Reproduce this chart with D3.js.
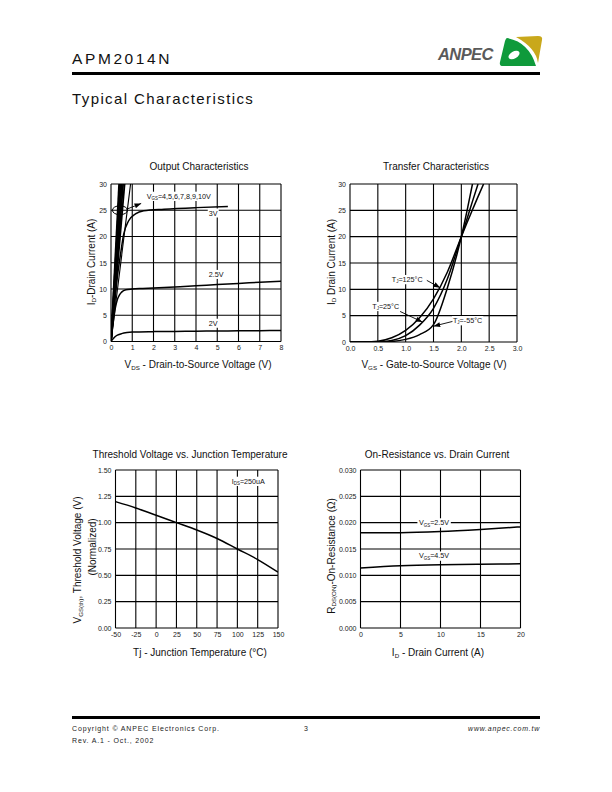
<!DOCTYPE html>
<html><head><meta charset="utf-8">
<script src="https://cdn.jsdelivr.net/npm/d3@7"></script>
<style>
body{margin:0;background:#fff;}
svg{display:block;font-family:"Liberation Sans",Arial,Helvetica,sans-serif;}
</style></head><body>
<svg id="page" width="612" height="792"></svg>
<script>
// ---------------- DATA ----------------
// Output characteristics (VDS in V, ID in A)
const outVds2V  = [0,0.1,0.2,0.3,0.5,0.75,1,2,3,4,5,6,7,8];
const outId2V   = [0,0.5,0.95,1.2,1.5,1.7,1.8,1.88,1.92,1.96,2.0,2.03,2.07,2.1];
const outVds25V = [0,0.1,0.2,0.3,0.4,0.5,0.7,1,1.5,2,3,4,5,6,7,8];
const outId25V  = [0,3.5,6.3,8.0,8.9,9.4,9.85,10.0,10.1,10.2,10.4,10.6,10.85,11.05,11.3,11.5];
const outVds3V  = [0,0.1,0.2,0.3,0.44,0.6,0.83,1.15,1.54,2.5,4,5.5];
const outId3V   = [0,4.5,8.5,12.3,16.4,20.5,23.0,24.3,24.9,25.2,25.5,25.7];
const outGateHigh = ["4","5","6","7","8","9","10"];
const outVdsAt30  = [0.92,0.64,0.57,0.51,0.46,0.42,0.38];
const outXTicks = [0,1,2,3,4,5,6,7,8];
const outYTicks = [0,5,10,15,20,25,30];

// Transfer characteristics (VGS in V, ID in A)
const trVgs125 = [0,0.25,0.5,0.75,1.0,1.25,1.5,1.75,2.0,2.1,2.2,2.3,2.4];
const trId125  = [0,0.02,0.15,0.8,2.2,4.6,8.2,13.3,20,22.6,25.1,27.6,30];
const trVgs25  = [0,0.5,0.75,1.0,1.25,1.5,1.75,2.0,2.1,2.2,2.3];
const trId25   = [0,0.03,0.3,1.2,3.2,6.4,12.0,20,23.3,26.7,30];
const trVgsM55 = [0,0.5,0.75,1.0,1.25,1.5,1.75,2.0,2.1,2.2];
const trIdM55  = [0,0,0.1,0.5,1.4,3.3,10.3,20,24.8,30];
const trXTicks = [0,0.5,1.0,1.5,2.0,2.5,3.0];
const trYTicks = [0,5,10,15,20,25,30];

// Threshold voltage vs junction temperature
const thTemp = [-50,-25,0,25,50,75,100,125,150];
const thVth  = [1.20,1.14,1.07,1.00,0.93,0.85,0.75,0.65,0.53];
const thXTicks = [-50,-25,0,25,50,75,100,125,150];
const thYTicks = [0,0.25,0.5,0.75,1.0,1.25,1.5];

// On-resistance vs drain current
const onId    = [0,5,10,15,20];
const onR25V  = [0.0181,0.0181,0.0183,0.0187,0.0192];
const onR45V  = [0.0114,0.0118,0.0120,0.0121,0.0122];
const onXTicks = [0,5,10,15,20];
const onYTicks = [0,0.005,0.010,0.015,0.020,0.025,0.030];

// ---------------- DRAWING ----------------
const page = d3.select("#page");
const defs = page.append("defs");
defs.append("marker").attr("id","arr").attr("viewBox","0 0 8 6")
  .attr("refX",8).attr("refY",3).attr("markerWidth",7).attr("markerHeight",5)
  .attr("markerUnits","userSpaceOnUse").attr("orient","auto")
  .append("path").attr("d","M0,0 L8,3 L0,6 Z").attr("fill","#000");

function rich(t, parts, fs){
  let shift = 0;
  parts.forEach(p=>{
    const ts = t.append("tspan");
    if (typeof p === "string"){
      ts.text(p);
      if (shift){ ts.attr("dy", -shift); shift = 0; }
    } else {
      ts.text(p.sub).attr("font-size", fs*0.62).attr("dy", fs*0.18);
      shift = fs*0.18;
    }
  });
  return t;
}
function boxBehind(g, t, pad){
  const b = t.node().getBBox();
  g.insert("rect", () => t.node())
    .attr("x", b.x - pad).attr("y", b.y).attr("width", b.width + 2*pad).attr("height", b.height)
    .attr("fill","#fff");
}
const plain = d => String(d);

let clipId = 0;
function makeChart(o){
  const g = page.append("g");
  const x = d3.scaleLinear().domain(o.xd).range([o.x0,o.x1]);
  const y = d3.scaleLinear().domain(o.yd).range([o.y1,o.y0]);
  // grid
  g.append("g").selectAll("line").data(o.xt).join("line")
    .attr("x1",d=>x(d)).attr("x2",d=>x(d)).attr("y1",o.y0).attr("y2",o.y1)
    .attr("stroke","#000").attr("stroke-width",1.1);
  g.append("g").selectAll("line").data(o.yt).join("line")
    .attr("y1",d=>y(d)).attr("y2",d=>y(d)).attr("x1",o.x0).attr("x2",o.x1)
    .attr("stroke","#000").attr("stroke-width",1.1);
  // axes
  const ax = g.append("g").attr("transform",`translate(0,${o.y1})`)
    .call(d3.axisBottom(x).tickValues(o.xt).tickSize(0).tickPadding(5).tickFormat(o.xf));
  const ay = g.append("g").attr("transform",`translate(${o.x0},0)`)
    .call(d3.axisLeft(y).tickValues(o.yt).tickSize(0).tickPadding(4).tickFormat(o.yf));
  [ax,ay].forEach(a=>{
    a.select(".domain").remove();
    a.selectAll("text").attr("font-size",7).attr("fill","#222")
      .attr("font-family","Liberation Sans, Arial, sans-serif");
  });
  ax.selectAll("text").attr("dy","0.55em");
  // clip
  const cid = "clip"+(clipId++);
  defs.append("clipPath").attr("id",cid).append("rect")
    .attr("x",o.x0).attr("y",o.y0).attr("width",o.x1-o.x0).attr("height",o.y1-o.y0);
  const plot = g.append("g").attr("clip-path",`url(#${cid})`);
  // title
  g.append("text").attr("x",o.tx).attr("y",o.ty).attr("text-anchor","middle")
    .attr("font-size",10).attr("fill","#111").text(o.title);
  return {g, x, y, plot};
}
const line = (x,y,curve)=> d3.line().x(d=>x(d[0])).y(d=>y(d[1])).curve(curve||d3.curveMonotoneX);
const zip = (a,b)=> a.map((v,i)=>[v,b[i]]);

// ---- Header ----
page.append("text").attr("x",72).attr("y",63.5).attr("font-size",15.5)
  .attr("letter-spacing",2.6).attr("fill","#111").text("APM2014N");
page.append("rect").attr("x",72).attr("y",72).attr("width",468).attr("height",3).attr("fill","#000");
page.append("text").attr("x",72).attr("y",104).attr("font-size",15)
  .attr("letter-spacing",1.4).attr("fill","#111").text("Typical Characteristics");
page.append("text").attr("x",438).attr("y",60).attr("font-size",16.5)
  .attr("font-weight","bold").attr("font-style","italic").attr("fill","#5a5a5a")
  .attr("letter-spacing",-0.6).text("ANPEC");
page.append("path").attr("d","M516,37 L538,36 Q543,36 542,40 L538,63 Q536,48 516,37 Z").attr("fill","#c9a81b");
page.append("path").attr("d","M507,38 Q529,42 536,66 L503,66 Q499,66 500,62 L505,41 Q506,38 507,38 Z").attr("fill","#0f9a3b");
page.append("ellipse").attr("cx",514).attr("cy",55).attr("rx",6).attr("ry",3.6)
  .attr("transform","rotate(-30 514 55)").attr("fill","#fff");

// ---- Footer ----
page.append("rect").attr("x",72).attr("y",716).attr("width",468).attr("height",3).attr("fill","#000");
page.append("text").attr("x",72).attr("y",731).attr("font-size",7).attr("letter-spacing",0.85)
  .attr("fill","#222").text("Copyright \u00A9 ANPEC Electronics Corp.");
page.append("text").attr("x",304).attr("y",731).attr("font-size",7).attr("fill","#222").text("3");
page.append("text").attr("x",540).attr("y",731).attr("font-size",7).attr("letter-spacing",0.75)
  .attr("text-anchor","end").attr("font-style","italic").attr("fill","#222").text("www.anpec.com.tw");
page.append("text").attr("x",72).attr("y",743).attr("font-size",7).attr("letter-spacing",0.85)
  .attr("fill","#222").text("Rev. A.1 - Oct., 2002");

// ---- Chart 1: Output Characteristics ----
{
  const c = makeChart({x0:111,x1:281,y0:184,y1:341.5,xd:[0,8],yd:[0,30],xt:outXTicks,yt:outYTicks,
    xf:plain,yf:plain,title:"Output Characteristics",tx:199,ty:170});
  const L = line(c.x,c.y);
  const Ls = line(c.x,c.y,d3.curveLinear);
  [[outVds2V,outId2V],[outVds25V,outId25V],[outVds3V,outId3V]].forEach(([a,b])=>{
    c.plot.append("path").attr("d",L(zip(a,b))).attr("fill","none").attr("stroke","#000").attr("stroke-width",1.5);
  });
  outGateHigh.forEach((v,i)=>{
    c.plot.append("path").attr("d",Ls([[0,0],[outVdsAt30[i],30]])).attr("fill","none")
      .attr("stroke","#000").attr("stroke-width",i===0?1.1:1.8);
  });
  // ellipse + arrow + labels
  c.g.append("ellipse").attr("cx",c.x(0.42)).attr("cy",c.y(25)).attr("rx",7.5).attr("ry",4.5)
    .attr("fill","none").attr("stroke","#000").attr("stroke-width",1);
  c.g.append("line").attr("x1",c.x(0.74)).attr("y1",c.y(25.2)).attr("x2",c.x(1.42)).attr("y2",c.y(26.3))
    .attr("stroke","#000").attr("stroke-width",0.9).attr("marker-end","url(#arr)");
  const lab = (xv,yv,parts)=>{
    const t = rich(c.g.append("text").attr("x",c.x(xv)).attr("y",c.y(yv)).attr("font-size",7.2).attr("fill","#111"),parts,7.2);
    boxBehind(c.g,t,1);
  };
  lab(1.68,27.2,["V",{sub:"GS"},"=4,5,6,7,8,9,10V"]);
  lab(4.6,24.0,["3V"]);
  lab(4.6,12.3,["2.5V"]);
  lab(4.6,3.0,["2V"]);
  const xt = c.g.append("text").attr("x",198).attr("y",368).attr("text-anchor","middle").attr("font-size",10).attr("fill","#111");
  rich(xt,["V",{sub:"DS"}," - Drain-to-Source Voltage (V)"],10);
  const yt = c.g.append("text").attr("transform","translate(94.5,262) rotate(-90)").attr("text-anchor","middle").attr("font-size",10).attr("fill","#111");
  rich(yt,["I",{sub:"D"},"-Drain Current (A)"],10);
}

// ---- Chart 2: Transfer Characteristics ----
{
  const c = makeChart({x0:350,x1:517,y0:184,y1:342,xd:[0,3],yd:[0,30],xt:trXTicks,yt:trYTicks,
    xf:d3.format(".1f"),yf:plain,title:"Transfer Characteristics",tx:436,ty:170});
  const L = line(c.x,c.y);
  [[trVgs125,trId125],[trVgs25,trId25],[trVgsM55,trIdM55]].forEach(([a,b])=>{
    c.plot.append("path").attr("d",L(zip(a,b))).attr("fill","none").attr("stroke","#000").attr("stroke-width",1.5);
  });
  const lab = (xv,yv,parts,ax1,ay1,ax2,ay2)=>{
    const t = rich(c.g.append("text").attr("x",c.x(xv)).attr("y",c.y(yv)).attr("font-size",7.2).attr("fill","#111"),parts,7.2);
    boxBehind(c.g,t,1);
    c.g.append("line").attr("x1",c.x(ax1)).attr("y1",c.y(ay1)).attr("x2",c.x(ax2)).attr("y2",c.y(ay2))
      .attr("stroke","#000").attr("stroke-width",0.9).attr("marker-end","url(#arr)");
  };
  lab(0.75,11.4,["T",{sub:"J"},"=125\u00B0C"],1.38,11.7,1.62,10.3);
  lab(0.4,6.3,["T",{sub:"J"},"=25\u00B0C"],0.9,5.8,1.3,3.8);
  lab(1.85,3.6,["T",{sub:"J"},"=-55\u00B0C"],1.84,3.9,1.5,3.0);
  const xt = c.g.append("text").attr("x",434).attr("y",368).attr("text-anchor","middle").attr("font-size",10).attr("fill","#111");
  rich(xt,["V",{sub:"GS"}," - Gate-to-Source Voltage (V)"],10);
  const yt = c.g.append("text").attr("transform","translate(334.5,262) rotate(-90)").attr("text-anchor","middle").attr("font-size",10).attr("fill","#111");
  rich(yt,["I",{sub:"D"}," Drain Current (A)"],10);
}

// ---- Chart 3: Threshold Voltage ----
{
  const c = makeChart({x0:115.5,x1:278,y0:470,y1:628,xd:[-50,150],yd:[0,1.5],xt:thXTicks,yt:thYTicks,
    xf:plain,yf:d3.format(".2f"),title:"Threshold Voltage vs. Junction Temperature",tx:190,ty:458});
  c.plot.append("path").attr("d",line(c.x,c.y)(zip(thTemp,thVth))).attr("fill","none").attr("stroke","#000").attr("stroke-width",1.5);
  const t = rich(c.g.append("text").attr("x",c.x(93)).attr("y",c.y(1.37)).attr("font-size",7.2).attr("fill","#111"),["I",{sub:"DS"},"=250uA"],7.2);
  boxBehind(c.g,t,1.5);
  const xt = c.g.append("text").attr("x",200).attr("y",656).attr("text-anchor","middle").attr("font-size",10).attr("fill","#111");
  xt.text("Tj - Junction Temperature (\u00B0C)");
  const yt = c.g.append("text").attr("transform","translate(81,560) rotate(-90)").attr("text-anchor","middle").attr("font-size",10).attr("fill","#111");
  rich(yt,["V",{sub:"GS(th)"},", Threshold Voltage (V)"],10);
  c.g.append("text").attr("transform","translate(96,547) rotate(-90)").attr("text-anchor","middle").attr("font-size",10).attr("fill","#111").text("(Normalized)");
}

// ---- Chart 4: On-Resistance ----
{
  const c = makeChart({x0:360.5,x1:520.5,y0:470,y1:628,xd:[0,20],yd:[0,0.03],xt:onXTicks,yt:onYTicks,
    xf:plain,yf:d3.format(".3f"),title:"On-Resistance vs. Drain Current",tx:437,ty:458});
  const L = line(c.x,c.y);
  [onR25V,onR45V].forEach(r=>{
    c.plot.append("path").attr("d",L(zip(onId,r))).attr("fill","none").attr("stroke","#000").attr("stroke-width",1.5);
  });
  const lab = (xv,yv,parts)=>{
    const t = rich(c.g.append("text").attr("x",c.x(xv)).attr("y",c.y(yv)).attr("font-size",7.2).attr("fill","#111"),parts,7.2);
    boxBehind(c.g,t,1.5);
  };
  lab(7.3,0.0195,["V",{sub:"GS"},"=2.5V"]);
  lab(7.3,0.0132,["V",{sub:"GS"},"=4.5V"]);
  const xt = c.g.append("text").attr("x",438).attr("y",656).attr("text-anchor","middle").attr("font-size",10).attr("fill","#111");
  rich(xt,["I",{sub:"D"}," - Drain Current (A)"],10);
  const yt = c.g.append("text").attr("transform","translate(334.5,556) rotate(-90)").attr("text-anchor","middle").attr("font-size",10).attr("fill","#111");
  rich(yt,["R",{sub:"DS(ON)"},"-On-Resistance (\u03A9)"],10);
}
</script>
</body></html>
